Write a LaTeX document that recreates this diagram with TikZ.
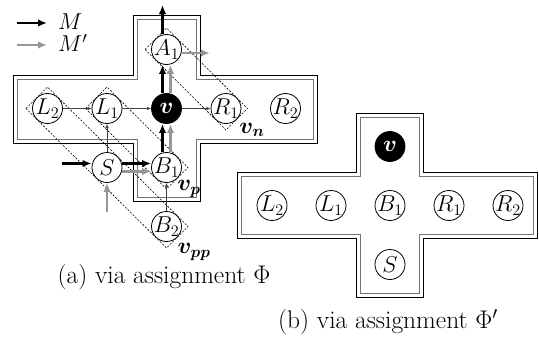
\RequirePackage{fix-cm}
\documentclass[tikz,border=0pt]{standalone}
\usepackage{bm}
\usetikzlibrary{arrows.meta,calc}
\definecolor{mgray}{RGB}{150,150,150}
\begin{document}
\begin{tikzpicture}[x=1pt,y=-1pt,
  nd/.style={circle,draw=black,line width=0.8pt,fill=white,minimum size=30pt,inner sep=0pt,font=\fontsize{23}{27}\selectfont},
  vnd/.style={nd,fill=black,text=white},
  grp/.style={draw=black,line width=0.6pt,dash pattern=on 2pt off 1.5pt},
  thickblk/.style={line width=2.8pt,black,-{Latex[length=9pt,width=7.5pt]}},
  thickgry/.style={line width=2.8pt,mgray,-{Latex[length=9pt,width=7.5pt]}},
  thinarr/.style={line width=0.6pt,black!75,-{Latex[length=4pt,width=3.5pt]}},
  outerb/.style={draw=black,line width=0.9pt},
  innerb/.style={draw=black!55,line width=0.9pt},
  lbl/.style={font=\fontsize{23}{27}\selectfont},
  captxt/.style={font=\fontsize{25.5}{30}\selectfont}
]
\useasboundingbox (0,0) rectangle (539,340);

% crosses
\draw[outerb] (133,15) -- (200,15) -- (200,75) -- (317,75) -- (317,143) -- (200,143) -- (200,201) -- (133,201) -- (133,143) -- (13,143) -- (13,75) -- (133,75) -- cycle;
\draw[innerb] (137,19) -- (196,19) -- (196,79) -- (313,79) -- (313,139) -- (196,139) -- (196,197) -- (137,197) -- (137,139) -- (17,139) -- (17,79) -- (137,79) -- cycle;
\draw[outerb] (356,113) -- (423,113) -- (423,172) -- (537,172) -- (537,238) -- (423,238) -- (423,297) -- (356,297) -- (356,238) -- (237,238) -- (237,172) -- (356,172) -- cycle;
\draw[innerb] (360,117) -- (419,117) -- (419,176) -- (533,176) -- (533,234) -- (419,234) -- (419,293) -- (360,293) -- (360,234) -- (241,234) -- (241,176) -- (360,176) -- cycle;

% positions (left)
\coordinate (pA1) at (166.5,49.5);
\coordinate (pv)  at (166.5,108.5);
\coordinate (pL2) at (47.5,108.5);
\coordinate (pL1) at (107,108.5);
\coordinate (pR1) at (226,108.5);
\coordinate (pR2) at (285.5,108.5);
\coordinate (pS)  at (107,167.5);
\coordinate (pB1) at (166.5,167.5);
\coordinate (pB2) at (166.5,226.5);

% groups
\draw[grp] ($(pA1)+(-21.5,0)$) -- ($(pA1)+(0,-21.5)$) -- ($(pR1)+(21.5,0)$) -- ($(pR1)+(0,21.5)$) -- cycle;
\draw[grp] ($(pL1)+(-21.5,0)$) -- ($(pL1)+(0,-21.5)$) -- ($(pB1)+(21.5,0)$) -- ($(pB1)+(0,21.5)$) -- cycle;
\draw[grp] ($(pL2)+(-21.5,0)$) -- ($(pL2)+(0,-21.5)$) -- ($(pB2)+(21.5,0)$) -- ($(pB2)+(0,21.5)$) -- cycle;

% nodes (left)
\node[nd] (A1) at (pA1) {\makebox[0pt]{$A_1$}};
\node[vnd] (v) at (pv) {\makebox[0pt]{$\bm{v}$}};
\node[nd] (L2) at (pL2) {\makebox[0pt]{$L_2$}};
\node[nd] (L1) at (pL1) {\makebox[0pt]{$L_1$}};
\node[nd] (R1) at (pR1) {\makebox[0pt]{$R_1$}};
\node[nd] (R2) at (pR2) {\makebox[0pt]{$R_2$}};
\node[nd] (S) at (pS) {\makebox[0pt]{$S$}};
\node[nd] (B1) at (pB1) {\makebox[0pt]{$B_1$}};
\node[nd] (B2) at (pB2) {\makebox[0pt]{$B_2$}};

% free ends
\coordinate (inM) at (62,163.5);
\coordinate (inMp) at (107,212);
\coordinate (topM) at (162.5,5);
\coordinate (rightMp) at (210,53);

% thin arrows
\draw[thinarr] (L2) -- (L1);
\draw[thinarr] (L1) -- (v);
\draw[thinarr] (v) -- (R1);
\draw[thinarr] (S) -- (L1);
\draw[thinarr] (B2) -- (B1);

% thick arrows
\draw[thickblk] (inM) -- ([yshift=4pt]S.west);
\draw[thickgry] (inMp) -- (S.south);
\draw[thickblk] ([yshift=4pt]S.east) -- ([yshift=4pt]B1.west);
\draw[thickgry] ([yshift=-4pt]S.east) -- ([yshift=-4pt]B1.west);
\draw[thickblk] ([xshift=-4pt]B1.north) -- ([xshift=-4pt]v.south);
\draw[thickgry] ([xshift=4pt]B1.north) -- ([xshift=4pt]v.south);
\draw[thickblk] ([xshift=-4pt]v.north) -- ([xshift=-4pt]A1.south);
\draw[thickgry] ([xshift=4pt]v.north) -- ([xshift=4pt]A1.south);
\draw[thickblk] ([xshift=-4pt]A1.north) -- (topM);
\draw[thickgry] ([yshift=-3.5pt]A1.east) -- (rightMp);

% group labels
\node[lbl] (lvn) at (252,130) {$\bm{v}_{\bm{n}}$};
\node[lbl] (lvp) at (189,189) {$\bm{v}_{\bm{p}}$};
\node[lbl] (lvpp) at (194,252) {$\bm{v}_{\bm{pp}}$};

% legend
\coordinate (lgA) at (17,23);
\coordinate (lgB) at (47,23);
\coordinate (lgC) at (17,45);
\coordinate (lgD) at (47,45);
\draw[thickblk] (lgA) -- (lgB);
\draw[thickgry] (lgC) -- (lgD);
\node[lbl,anchor=base west,inner sep=0pt] (lgM) at (58,30) {$M$};
\node[lbl,anchor=base west,inner sep=0pt] (lgMp) at (58,52) {$M'$};

% right figure
\node[vnd] (v2) at (390,146.5) {\makebox[0pt]{$\bm{v}$}};
\node[nd] (L22) at (272,205.5) {\makebox[0pt]{$L_2$}};
\node[nd] (L12) at (331,205.5) {\makebox[0pt]{$L_1$}};
\node[nd] (B12) at (390,205.5) {\makebox[0pt]{$B_1$}};
\node[nd] (R12) at (449,205.5) {\makebox[0pt]{$R_1$}};
\node[nd] (R22) at (508,205.5) {\makebox[0pt]{$R_2$}};
\node[nd] (S2) at (390,264.5) {\makebox[0pt]{$S$}};

% captions
\node[captxt] (capa) at (164,277) {(a) via assignment $\Phi$};
\node[captxt] (capb) at (388,322.5) {(b) via assignment $\Phi'$};
\end{tikzpicture}
\end{document}
